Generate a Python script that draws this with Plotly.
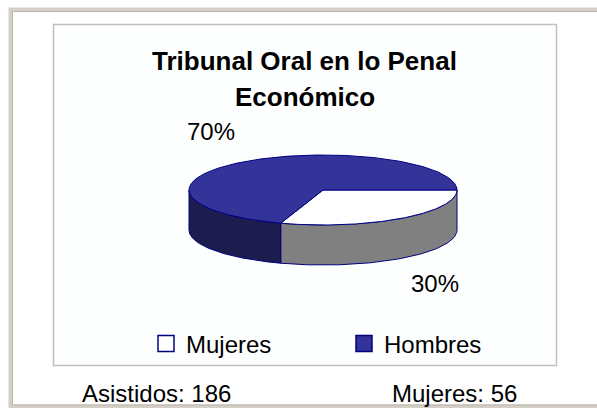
import numpy as np
import plotly.graph_objects as go

# ---- data ----
categories = ["Mujeres", "Hombres"]
values = [56, 130]
top_colors = ["#ffffff", "#333399"]
side_colors = ["#808080", "#1c1c4e"]
title_lines = ["Tribunal Oral en lo Penal", "Económico"]

# ---- geometry (layout, in page pixels) ----
W, H = 597, 408
CX, CY, RX, RY, DEPTH = 323, 190, 134, 35, 40
OUTLINE = "#000080"
FONT = "Liberation Sans, Arial, sans-serif"

total = sum(values)
fracs = [v / total for v in values]
bounds = np.concatenate([[0], np.cumsum(fracs)]) * 2 * np.pi

fig = go.Figure()

# side walls (front half only: angles 0..pi are towards the viewer)
for i, cat in enumerate(categories):
    a, b = max(bounds[i], 0), min(bounds[i + 1], np.pi)
    if b > a:
        ts = np.linspace(a, b, 80)
        xs = CX + RX * np.cos(ts)
        yt = CY + RY * np.sin(ts)
        yb = yt + DEPTH
        px = np.concatenate([xs, xs[::-1], xs[:1]])
        py = np.concatenate([yt, yb[::-1], yt[:1]])
        fig.add_trace(go.Scatter(x=px, y=py, mode="lines", fill="toself",
                                 fillcolor=side_colors[i],
                                 line=dict(color=OUTLINE, width=1),
                                 showlegend=False, hoverinfo="skip"))

# top faces
for i, cat in enumerate(categories):
    ts = np.linspace(bounds[i], bounds[i + 1], 160)
    px = np.concatenate([[CX], CX + RX * np.cos(ts), [CX]])
    py = np.concatenate([[CY], CY + RY * np.sin(ts), [CY]])
    fig.add_trace(go.Scatter(x=px, y=py, mode="lines", fill="toself",
                             fillcolor=top_colors[i],
                             line=dict(color=OUTLINE, width=1),
                             showlegend=False, hoverinfo="skip", name=cat))

# legend entries
for i, cat in enumerate(categories):
    fig.add_trace(go.Scatter(x=[None], y=[None], mode="markers", name=cat,
                             marker=dict(symbol="square", size=16,
                                         color=top_colors[i],
                                         line=dict(color=OUTLINE, width=1.5))))

pct = [f"{round(f * 100)}%" for f in fracs]
annotations = [
    dict(x=304, y=61, text=f"<b>{title_lines[0]}</b>", font=dict(size=26)),
    dict(x=305, y=97, text=f"<b>{title_lines[1]}</b>", font=dict(size=26)),
    dict(x=211, y=131, text=pct[1], font=dict(size=24)),
    dict(x=435, y=283, text=pct[0], font=dict(size=24)),
    dict(x=80, y=393, text=f"Asistidos: {total}", xanchor="left", font=dict(size=24)),
    dict(x=390, y=393, text=f"{categories[0]}: {values[0]}", xanchor="left", font=dict(size=24)),
]
for a in annotations:
    a.setdefault("xanchor", "center")
    a.update(xref="x", yref="y", yanchor="middle", showarrow=False)
    a["font"].update(family=FONT, color="#000000")

shapes = [
    # outer frame
    dict(type="rect", x0=10.5, y0=9.5, x1=W + 20, y1=406.5,
         line=dict(color="#d4d0c8", width=4), layer="below"),
    dict(type="rect", x0=12.5, y0=11.5, x1=W + 20, y1=405,
         line=dict(color="#b8b4ac", width=1), layer="below"),
    # inner chart box
    dict(type="rect", x0=53.5, y0=24.5, x1=556.5, y1=365.5,
         line=dict(color="#c0c0c0", width=1.5), fillcolor="#fdfefe", layer="below"),
]

fig.update_layout(
    width=W, height=H,
    margin=dict(l=0, r=0, t=0, b=0),
    paper_bgcolor="#ffffff", plot_bgcolor="rgba(0,0,0,0)",
    xaxis=dict(range=[0, W], visible=False, fixedrange=True),
    yaxis=dict(range=[H, 0], visible=False, fixedrange=True),
    showlegend=True,
    legend=dict(orientation="h", x=146 / W, xanchor="left",
                y=1 - 344 / H, yanchor="middle",
                font=dict(family=FONT, size=24, color="#000000"),
                bgcolor="rgba(0,0,0,0)", entrywidth=153, entrywidthmode="pixels",
                itemclick=False, itemdoubleclick=False),
    annotations=annotations,
    shapes=shapes,
    font=dict(family=FONT),
)

fig.write_html("out.html", config={"displayModeBar": False},
               post_script="document.body.style.margin='0px';document.body.style.overflow='hidden';")
